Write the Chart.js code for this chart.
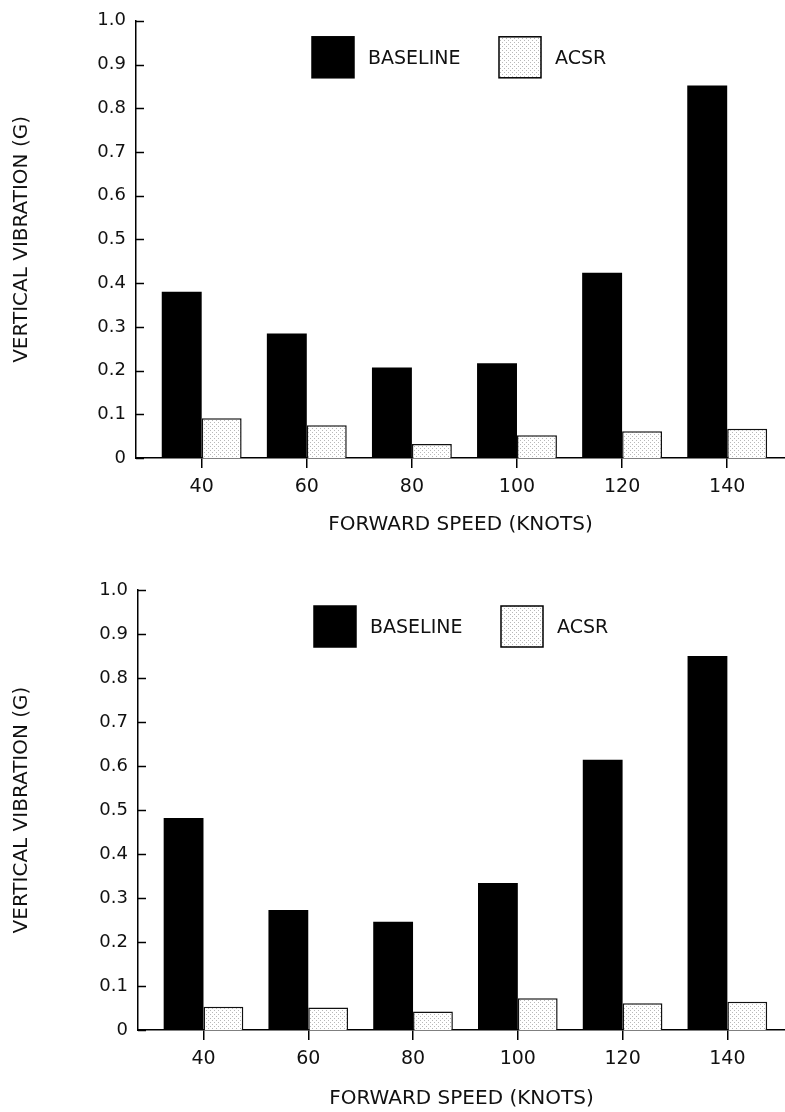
<!DOCTYPE html>
<html>
<head>
<meta charset="utf-8">
<script src="https://cdn.jsdelivr.net/npm/chart.js@4/dist/chart.umd.min.js"></script>
<style>
  body { margin: 0; background: #fff; }
  canvas { display: block; }
</style>
</head>
<body>
<canvas id="chartTop" width="785" height="556"></canvas>
<canvas id="chartBottom" width="785" height="556"></canvas>
<script>
// data
const speeds = [40, 60, 80, 100, 120, 140];
const xTicks = [40, 60, 80, 100, 120, 140];
const topBaseline = [0.38, 0.285, 0.207, 0.217, 0.424, 0.852];
const topAcsr = [0.091, 0.075, 0.032, 0.052, 0.061, 0.067];
const bottomBaseline = [0.482, 0.273, 0.246, 0.334, 0.614, 0.85];
const bottomAcsr = [0.053, 0.051, 0.042, 0.072, 0.061, 0.064];
const seriesNames = ['BASELINE', 'ACSR'];

const FONT = "'DejaVu Sans', sans-serif";

// light stipple fill for the ACSR bars
function stipple() {
    var c = document.createElement('canvas');
    c.width = 4; c.height = 4;
    var g = c.getContext('2d');
    g.fillStyle = '#fff';
    g.fillRect(0, 0, 4, 4);
    g.fillStyle = '#b8b8b8';
    g.fillRect(0, 0, 1, 1);
    g.fillRect(2, 2, 1, 1);
    return g.createPattern(c, 'repeat');
}

// y ticks pointing inward + the boxed legend inside the plot
const extras = {
    id: 'extras',
    afterDraw(chart) {
        const ctx = chart.ctx;
        const y = chart.scales.y;
        const area = chart.chartArea;
        ctx.save();
        ctx.strokeStyle = '#000';
        ctx.lineWidth = 1.5;
        y.ticks.forEach(function (t) {
            const py = Math.round(y.getPixelForValue(t.value)) + 0.5;
            ctx.beginPath();
            ctx.moveTo(area.left, py);
            ctx.lineTo(area.left + 8, py);
            ctx.stroke();
        });

        let bx = area.left + 176;
        const by = area.top + 16;
        ctx.font = '19px ' + FONT;
        ctx.textBaseline = 'middle';
        chart.data.datasets.forEach(function (ds, i) {
            ctx.fillStyle = ds.backgroundColor;
            ctx.fillRect(bx, by, 42, 41);
            ctx.lineWidth = 1.5;
            ctx.strokeStyle = '#000';
            ctx.strokeRect(bx, by, 42, 41);
            ctx.fillStyle = '#111';
            ctx.fillText(ds.label, bx + 56, by + 22);
            bx += 187;
        });
        ctx.restore();
    }
};

function drawChart(id, baseline, acsr, yWidth, padTop, xHeight, titlePad) {
    const config = {
        type: 'bar',
        data: {
            datasets: [{
                label: seriesNames[0],
                data: speeds.map(function (s, i) { return {x: s, y: baseline[i]}; }),
                backgroundColor: '#000',
                borderColor: '#000',
                borderWidth: 0
            }, {
                label: seriesNames[1],
                data: speeds.map(function (s, i) { return {x: s, y: acsr[i]}; }),
                backgroundColor: stipple(),
                borderColor: '#111',
                borderWidth: 1.5
            }]
        },
        options: {
            responsive: false,
            animation: false,
            layout: {padding: {top: padTop, left: 0, right: 0, bottom: 0}},
            categoryPercentage: 0.76,
            barPercentage: 1,
            plugins: {
                legend: {display: false},
                tooltip: {enabled: false}
            },
            scales: {
                x: {
                    type: 'linear',
                    offset: false,
                    min: 27.5,
                    max: 151,
                    afterBuildTicks: function (scale) {
                        scale.ticks = xTicks.map(function (v) { return {value: v}; });
                    },
                    afterFit: function (scale) { scale.height = xHeight; },
                    border: {display: true, color: '#000', width: 1.5},
                    grid: {display: true, offset: false, drawOnChartArea: false, drawTicks: true, tickLength: 10, color: '#000', lineWidth: 1.5},
                    ticks: {color: '#111', font: {family: FONT, size: 19}, padding: 8, maxRotation: 0},
                    title: {display: true, text: 'FORWARD SPEED (KNOTS)', color: '#111',
                        font: {family: FONT, size: 20}, padding: {top: 0, bottom: titlePad}}
                },
                y: {
                    min: 0,
                    max: 1,
                    afterFit: function (scale) { scale.width = yWidth; },
                    border: {display: true, color: '#000', width: 1.5},
                    grid: {display: false, drawTicks: false},
                    ticks: {
                        stepSize: 0.1,
                        color: '#111',
                        font: {family: FONT, size: 18},
                        padding: 10,
                        callback: function (v) { return v === 0 ? '0' : Number(v).toFixed(1); }
                    },
                    title: {display: true, text: 'VERTICAL VIBRATION (G)', color: '#111',
                        font: {family: FONT, size: 20}, padding: {top: 10, bottom: 0}}
                }
            }
        },
        plugins: [extras]
    };
    return new Chart(document.getElementById(id), config);
}

drawChart('chartTop', topBaseline, topAcsr, 136, 16, 98, 19);
drawChart('chartBottom', bottomBaseline, bottomAcsr, 138, 34, 82, 1);
</script>
</body>
</html>
